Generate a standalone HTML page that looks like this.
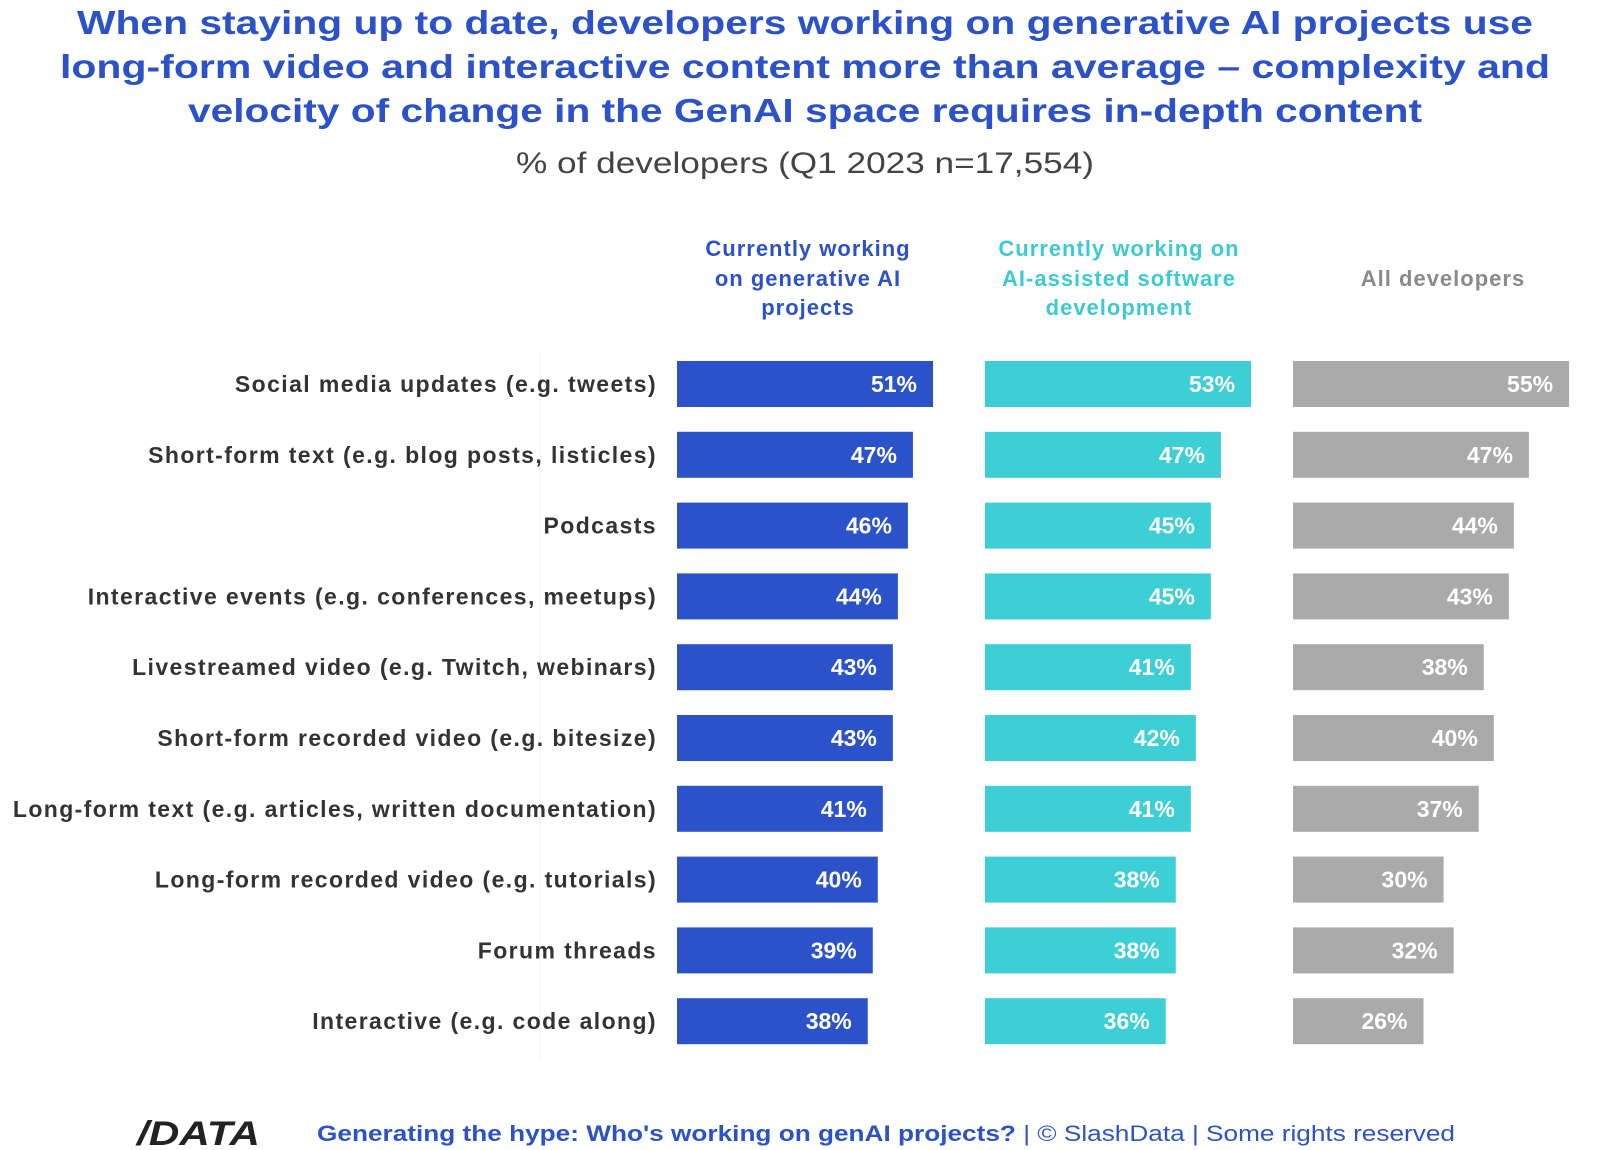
<!DOCTYPE html>
<html><head><meta charset="utf-8"><style>
html,body{margin:0;padding:0;background:#fff;}
svg{display:block;font-family:"Liberation Sans",sans-serif;}
</style></head><body>
<svg id="chart" width="1610" height="1150" viewBox="0 0 1610 1150">
<g fill="#2b52c9" font-weight="bold" font-size="33" text-anchor="middle">
<text x="805" y="34" textLength="1456" lengthAdjust="spacingAndGlyphs">When staying up to date, developers working on generative AI projects use</text>
<text x="805" y="78" textLength="1490" lengthAdjust="spacingAndGlyphs">long-form video and interactive content more than average – complexity and</text>
<text x="805" y="122" textLength="1234" lengthAdjust="spacingAndGlyphs">velocity of change in the GenAI space requires in-depth content</text>
</g>
<text x="805" y="173" font-size="30" fill="#444" text-anchor="middle" textLength="578" lengthAdjust="spacingAndGlyphs">% of developers (Q1 2023 n=17,554)</text>
<g font-size="22" font-weight="bold" text-anchor="middle" letter-spacing="1">
<g fill="#2b52c9"><text x="808" y="256">Currently working</text><text x="808" y="286">on generative AI</text><text x="808" y="315">projects</text></g>
<g fill="#3ccbd3"><text x="1119" y="256">Currently working on</text><text x="1119" y="286">AI-assisted software</text><text x="1119" y="315">development</text></g>
<g fill="#8a8a8a"><text x="1443" y="286">All developers</text></g>
</g>
<line x1="540" y1="352" x2="540" y2="1058" stroke="#eee" stroke-width="1"/>
<g id="rows"></g>
<g>
<text x="137" y="1145" font-size="34" font-weight="bold" fill="#222" font-style="italic" textLength="123" lengthAdjust="spacingAndGlyphs">/DATA</text>
<text x="317" y="1141" font-size="22" textLength="1138" lengthAdjust="spacingAndGlyphs"><tspan fill="#2b52c9" font-weight="bold">Generating the hype: Who's working on genAI projects?</tspan><tspan fill="#2b52c9"> | © SlashData | Some rights reserved</tspan></text>
</g>
</svg>
<script>
const categories=["Social media updates (e.g. tweets)","Short-form text (e.g. blog posts, listicles)","Podcasts","Interactive events (e.g. conferences, meetups)","Livestreamed video (e.g. Twitch, webinars)","Short-form recorded video (e.g. bitesize)","Long-form text (e.g. articles, written documentation)","Long-form recorded video (e.g. tutorials)","Forum threads","Interactive (e.g. code along)"];
const genai=[51,47,46,44,43,43,41,40,39,38];
const aiAssisted=[53,47,45,45,41,42,41,38,38,36];
const allDevs=[55,47,44,43,38,40,37,30,32,26];
const NS="http://www.w3.org/2000/svg";
const g=document.getElementById('rows');
const rowY=i=>384+i*70.8;
const xw=v=>v*5.02;
const series=[{d:genai,x0:677,c:"#2b52c9",n:"genai"},{d:aiAssisted,x0:985,c:"#3ccfd6",n:"ai-assisted"},{d:allDevs,x0:1293,c:"#aaaaaa",n:"all-developers"}];
categories.forEach((cat,i)=>{
  const y=rowY(i);
  const t=document.createElementNS(NS,'text');
  
  
  t.setAttribute('x',657);t.setAttribute('y',y+8);t.setAttribute('text-anchor','end');
  t.setAttribute('font-size','23');t.setAttribute('font-weight','bold');t.setAttribute('fill','#333');
  t.setAttribute('letter-spacing','1.4');
  t.textContent=cat;g.appendChild(t);
  series.forEach(s=>{
    const v=s.d[i];
    const r=document.createElementNS(NS,'rect');
    
    
    r.setAttribute('x',s.x0);r.setAttribute('y',y-23);r.setAttribute('width',xw(v));r.setAttribute('height',46);r.setAttribute('fill',s.c);
    g.appendChild(r);
    const l=document.createElementNS(NS,'text');
    
    
    l.setAttribute('x',s.x0+xw(v)-16);l.setAttribute('y',y+8);l.setAttribute('text-anchor','end');
    l.setAttribute('font-size','23');l.setAttribute('font-weight','bold');l.setAttribute('fill','#fff');
    l.textContent=v+'%';g.appendChild(l);
  });
});
</script>
</body></html>
